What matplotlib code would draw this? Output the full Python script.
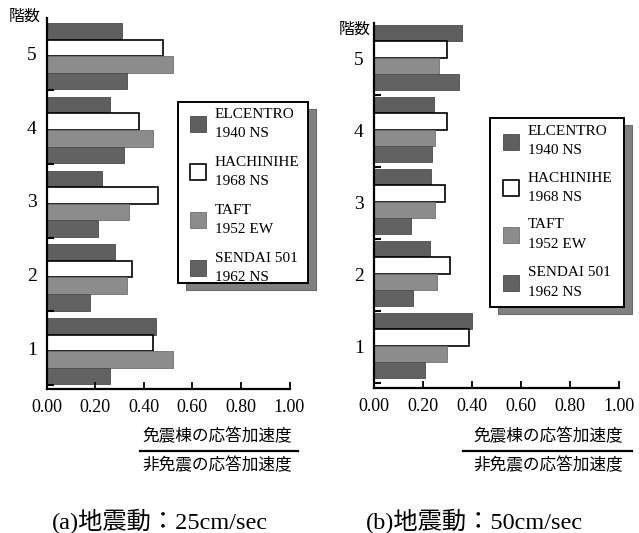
import numpy as np
import matplotlib
matplotlib.use("Agg")
import matplotlib.pyplot as plt
from matplotlib.patches import Rectangle
from matplotlib.lines import Line2D

plt.rcParams['font.family'] = ['Liberation Serif', 'Noto Sans CJK JP']

# データ (階 1..5)
floors = [1, 2, 3, 4, 5]
labels = ['ELCENTRO', 'HACHINIHE', 'TAFT', 'SENDAI 501']
years = ['1940 NS', '1968 NS', '1952 EW', '1962 NS']
colors = ['#5f5f5f', '#ffffff', '#8c8c8c', '#626262']
edges = ['#4a4a4a', '#000000', '#707070', '#4a4a4a']

# (a) 25cm/sec
a_elcentro = [0.45, 0.28, 0.23, 0.26, 0.31]
a_hachinihe = [0.44, 0.35, 0.46, 0.38, 0.48]
a_taft = [0.52, 0.33, 0.34, 0.44, 0.52]
a_sendai = [0.26, 0.18, 0.21, 0.32, 0.33]

# (b) 50cm/sec
b_elcentro = [0.40, 0.23, 0.235, 0.245, 0.36]
b_hachinihe = [0.39, 0.31, 0.29, 0.30, 0.30]
b_taft = [0.30, 0.26, 0.25, 0.25, 0.265]
b_sendai = [0.21, 0.16, 0.153, 0.24, 0.35]

xticks = [0.0, 0.2, 0.4, 0.6, 0.8, 1.0]
num_text = '免震棟の応答加速度'
den_text = '非免震の応答加速度'
captions = ['(a)地震動：25cm/sec', '(b)地震動：50cm/sec']

W, H = 639, 533
fig = plt.figure(figsize=(W / 100, H / 100), dpi=100)


def fx(px):
    return px / W


def fy(py):
    return 1 - py / H


def panel(rect, data, gap_top, ylim, ylab_pos, legend_box, sq_x, sq_y, txt_x,
          frac_x, frac_line):
    ax = fig.add_axes(rect)
    h = 0.225
    y = np.array(floors, dtype=float)
    for k, vals in enumerate(data):
        yc = y + 0.5 - gap_top - h / 2 - k * h
        lw = 1.2 if k == 1 else 0.6
        ax.barh(yc, vals, height=h, color=colors[k], edgecolor=edges[k],
                linewidth=lw)
    ax.set_xlim(0, 1.0)
    ax.set_ylim(*ylim)
    for s in ['top', 'right']:
        ax.spines[s].set_visible(False)
    for s in ['left', 'bottom']:
        ax.spines[s].set_linewidth(1.6)
    ax.set_xticks(xticks)
    ax.set_xticklabels(['%.2f' % v for v in xticks], fontsize=13)
    ax.tick_params(axis='x', direction='in', length=5, width=1.3, pad=7)
    ax.set_yticks(floors)
    ax.set_yticklabels([str(f) for f in floors], fontsize=14)
    ax.tick_params(axis='y', length=0, pad=7)
    ax.set_yticks([f - 0.5 for f in floors], minor=True)
    ax.tick_params(axis='y', which='minor', direction='in', length=5, width=1.5)

    fig.text(fx(ylab_pos[0]), fy(ylab_pos[1]), '階数', fontsize=11.5,
             ha='center', va='center')

    # 凡例 (影付きの枠)
    bx0, by0, bx1, by1 = legend_box
    fig.patches.append(Rectangle((fx(bx0 + 8), fy(by1 + 7)), fx(bx1 - bx0), fy(by0) - fy(by1),
                                 transform=fig.transFigure, facecolor='#808080',
                                 edgecolor='#6a6a6a', linewidth=0.8, zorder=1))
    fig.patches.append(Rectangle((fx(bx0), fy(by1)), fx(bx1 - bx0), fy(by0) - fy(by1),
                                 transform=fig.transFigure, facecolor='white',
                                 edgecolor='black', linewidth=1.4, zorder=2))
    for k in range(4):
        fig.patches.append(Rectangle((fx(sq_x), fy(sq_y[k] + 8)), fx(16), fy(0) - fy(16),
                                     transform=fig.transFigure, facecolor=colors[k],
                                     edgecolor='black' if k == 1 else edges[k],
                                     linewidth=1.2 if k == 1 else 0.6, zorder=3))
        fig.text(fx(txt_x), fy(sq_y[k] - 10), labels[k], fontsize=11,
                 ha='left', va='center', zorder=4)
        fig.text(fx(txt_x), fy(sq_y[k] + 9.5), years[k], fontsize=11,
                 ha='left', va='center', zorder=4)

    # 横軸の分数表記
    fig.text(fx(frac_x), fy(437), num_text, fontsize=12, ha='center', va='center')
    fig.add_artist(Line2D([fx(frac_line[0]), fx(frac_line[1])], [fy(451), fy(451)],
                          transform=fig.transFigure, color='black', linewidth=1.6))
    fig.text(fx(frac_x), fy(466), den_text, fontsize=12, ha='center', va='center')
    return ax


panel([fx(46.5), fy(389), fx(243), fy(18) - fy(389)],
      [a_elcentro, a_hachinihe, a_taft, a_sendai], 0.09, (0.446, 5.48),
      (25, 17), (178, 102, 308, 283), 190, [124, 172, 220, 268], 215,
      217, (140, 298))

panel([fx(373.5), fy(388), fx(245.5), fy(23) - fy(388)],
      [b_elcentro, b_hachinihe, b_taft, b_sendai], 0.03, (0.43, 5.5),
      (355, 30), (490, 118, 624, 307), 503, [141.5, 188, 235, 282.5], 528,
      548, (463, 632))

fig.text(fx(160), fy(521), captions[0], fontsize=17.5, ha='center', va='center')
fig.text(fx(474), fy(521), captions[1], fontsize=17.5, ha='center', va='center')

fig.savefig('out.png', dpi=100)
